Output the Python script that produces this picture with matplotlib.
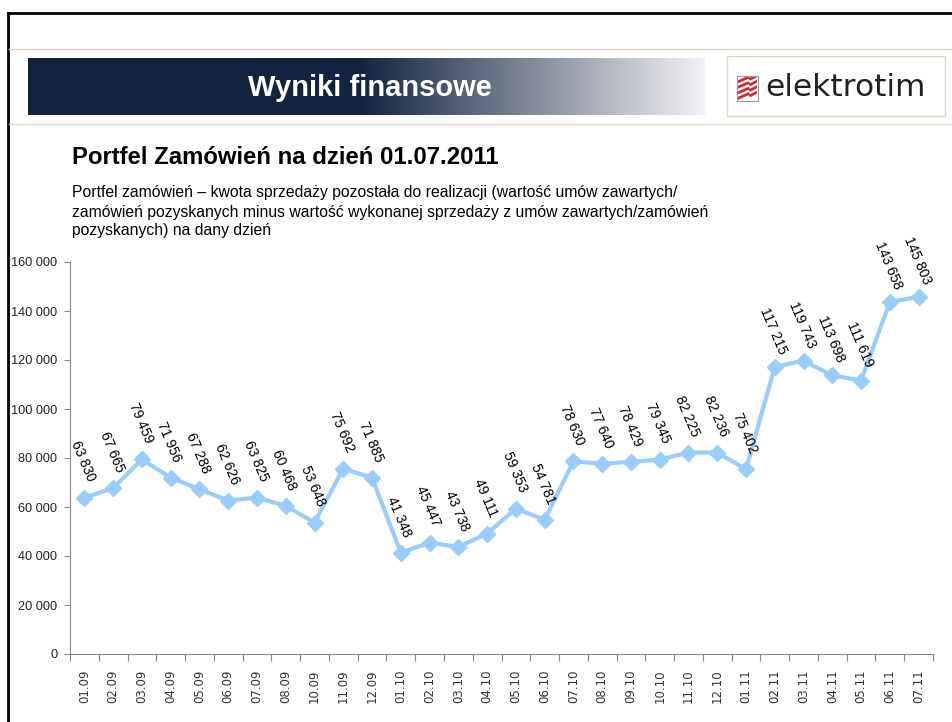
import matplotlib
matplotlib.use("Agg")
import matplotlib.pyplot as plt
from matplotlib.patches import Rectangle, Polygon
from matplotlib.lines import Line2D
import numpy as np

# data
months = ["01.09", "02.09", "03.09", "04.09", "05.09", "06.09", "07.09", "08.09", "10.09", "11.09", "12.09",
          "01.10", "02.10", "03.10", "04.10", "05.10", "06.10", "07.10", "08.10", "09.10", "10.10", "11.10", "12.10",
          "01.11", "02.11", "03.11", "04.11", "05.11", "06.11", "07.11"]
portfel = [63830, 67665, 79459, 71956, 67288, 62626, 63825, 60468, 53648, 75692, 71885,
           41348, 45447, 43738, 49111, 59353, 54781, 78630, 77640, 78429, 79345, 82225, 82236,
           75402, 117215, 119743, 113698, 111619, 143658, 145803]
y_ticks = [0, 20000, 40000, 60000, 80000, 100000, 120000, 140000, 160000]

header = "Wyniki finansowe"
title = "Portfel Zamówień na dzień 01.07.2011"
subtitle = ["Portfel zamówień – kwota sprzedaży pozostała do realizacji (wartość umów zawartych/",
            "zamówień pozyskanych minus wartość wykonanej sprzedaży z umów zawartych/zamówień",
            "pozyskanych) na dany dzień"]

W, H = 952, 722
fig = plt.figure(figsize=(W / 100, H / 100), dpi=100)
fig.patch.set_facecolor("white")


def fx(x):
    return x / W


def fy(y):
    return 1 - y / H


def fmt(v):
    return f"{v:,}".replace(",", " ")


# slide frame and separator lines
fig.add_artist(Line2D([fx(8), 1], [fy(13), fy(13)], color="black", lw=2))
fig.add_artist(Line2D([fx(8), fx(8)], [fy(13), 0], color="black", lw=2))
for yy in (49, 124):
    fig.add_artist(Line2D([fx(9), 1], [fy(yy), fy(yy)], color="#d9d6c4", lw=1))

# gradient banner
bx = fig.add_axes([fx(28), fy(115), fx(705 - 28), (115 - 58) / H])
n = 400
t = np.linspace(0, 1, n)
start = 0.49
w = np.clip((t - start) / (1 - start), 0, 1)
c0 = np.array([19, 35, 63]) / 255
c1 = np.array([242, 242, 244]) / 255
grad = (1 - w)[:, None] * c0 + w[:, None] * c1
bx.imshow(grad[None, :, :], aspect="auto", extent=[0, 1, 0, 1])
bx.set_axis_off()
fig.text(fx(370), fy(88), header, color="white", fontsize=21, fontweight="bold",
         family="Liberation Sans", ha="center", va="center")

# logo
fig.add_artist(Rectangle((fx(727), fy(116)), fx(945 - 727), (116 - 56) / H,
                         transform=fig.transFigure, facecolor="white", edgecolor="#dcd8c8",
                         lw=1, zorder=-1))
ix = fig.add_axes([fx(737), fy(101), fx(21), 25 / H])
ix.set_zorder(5)
ix.set_xlim(0, 1)
ix.set_ylim(0, 1)
ix.set_xticks([])
ix.set_yticks([])
for s in ix.spines.values():
    s.set_color("#9a9a9a")
    s.set_linewidth(0.8)
for y0 in (0.05, 0.27, 0.49, 0.71):
    ix.add_patch(Polygon([(0.05, y0), (0.55, y0 + 0.18), (0.62, y0 + 0.1), (0.95, y0 + 0.24),
                          (0.95, y0 + 0.36), (0.62, y0 + 0.22), (0.55, y0 + 0.3), (0.05, y0 + 0.12)],
                         closed=True, color="#d7262b", lw=0))
fig.text(fx(765), fy(88), "elektrotim", color="#231f20", fontsize=22.5,
         family="DejaVu Sans", ha="left", va="center")

# titles
fig.text(fx(72), fy(158), title, fontsize=17.2, fontweight="bold", family="Liberation Sans",
         ha="left", va="center", color="black")
for i, line in enumerate(subtitle):
    fig.text(fx(72), fy(193 + i * 19), line, fontsize=11.3, family="Liberation Sans",
             ha="left", va="center", color="black")

# chart
ax = fig.add_axes([fx(70), fy(654), fx(933 - 70), (654 - 262) / H])
x = np.arange(len(months))
ax.plot(x, portfel, color="#99ccff", lw=3, marker="D", markersize=8.5, zorder=3)
for xi, v in zip(x, portfel):
    ax.annotate(fmt(v), (xi, v), xytext=(-1, 26), textcoords="offset points",
                rotation=-67, rotation_mode="anchor", ha="center", va="center",
                fontsize=10, family="Liberation Sans", color="black")

ax.set_xlim(-0.5, len(months) - 0.5)
ax.set_ylim(0, 160000)
ax.set_yticks(y_ticks)
ax.set_yticklabels([fmt(v) for v in y_ticks], fontsize=9.2, family="Liberation Sans", color="#222222")
ax.set_xticks(x)
ax.set_xticklabels(months, rotation=90, fontsize=8.5, family="DejaVu Sans", color="#333333")
ax.set_xticks(np.arange(-0.5, len(months), 1), minor=True)
ax.tick_params(axis="x", which="major", length=0, pad=11)
ax.tick_params(axis="x", which="minor", length=5, color="#888888", width=0.8)
ax.tick_params(axis="y", length=4, color="#888888", width=0.8, pad=5)
for s in ("top", "right"):
    ax.spines[s].set_visible(False)
for s in ("left", "bottom"):
    ax.spines[s].set_color("#888888")
    ax.spines[s].set_linewidth(0.8)

fig.savefig("out.png", dpi=100)
